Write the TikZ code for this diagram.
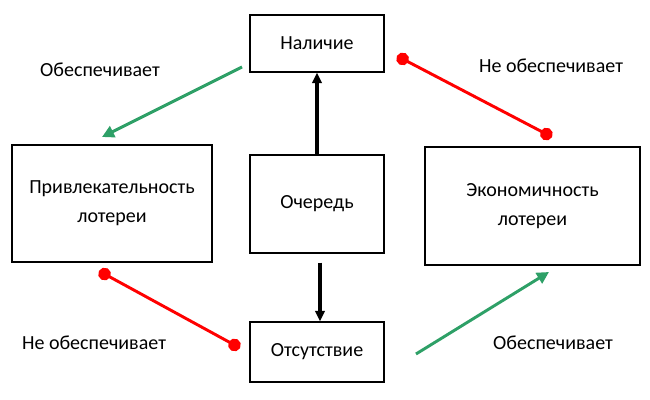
\documentclass[tikz,border=0pt]{standalone}
\usepackage{fontspec}
\setmainfont{Carlito}
\usetikzlibrary{arrows.meta,positioning,calc}
\definecolor{okgreen}{RGB}{46,160,103}
\tikzset{every picture/.style={line width=0.75pt}}

\begin{document}
\begin{tikzpicture}[x=0.75pt,y=-0.75pt,
    box/.style={draw, line width=0.8pt, inner sep=0pt, align=center,
                font=\fontsize{15}{21.5}\selectfont},
    lbl/.style={font=\fontsize{15}{18}\selectfont},
    yes/.style={okgreen, line width=2.2pt, -{Triangle[length=9pt,width=9pt]}},
    no/.style={red, line width=2.2pt, {Circle[length=9.5pt]}-{Circle[length=9.5pt]}},
    flow/.style={black, line width=2.4pt, -{Triangle[length=8pt,width=7pt]}}]
    \useasboundingbox (0,0) rectangle (650,400);

    % блоки
    \node[box, minimum width=134pt*0.75, minimum height=57pt*0.75] (nalichie) at (317,43.5) {Наличие};
    \node[box, minimum width=134pt*0.75, minimum height=98pt*0.75] (ochered) at (317,204) {Очередь};
    \node[box, minimum width=134pt*0.75, minimum height=60pt*0.75] (otsutstvie) at (317,352) {Отсутствие};
    \node[box, minimum width=200pt*0.75, minimum height=117pt*0.75] (privlek) at (112,203.5) {Привлекательность\\лотереи};
    \node[box, minimum width=215pt*0.75, minimum height=118pt*0.75] (ekonom) at (532.5,206) {Экономичность\\лотереи};

    % очередь -> наличие / отсутствие
    \draw[flow] (ochered.north) -- (nalichie.south);
    \coordinate (downstart) at ($(ochered.south)+(3,9)$);
    \draw[flow] (downstart) -- (downstart |- otsutstvie.north);

    % обеспечивает
    \coordinate (g1a) at (242,67);
    \coordinate (g1b) at (102,137);
    \draw[yes] (g1a) -- (g1b);
    \node[lbl] (t1) at (100,70) {Обеспечивает};

    \coordinate (g2a) at (416,354);
    \coordinate (g2b) at (549,272);
    \draw[yes] (g2a) -- (g2b);
    \node[lbl] (t4) at (553,343) {Обеспечивает};

    % не обеспечивает
    \coordinate (r1a) at (397,56);
    \coordinate (r1b) at (552,137);
    \draw[no] (r1a) -- (r1b);
    \node[lbl] (t2) at (551,66) {Не обеспечивает};

    \coordinate (r2a) at (99,271);
    \coordinate (r2b) at (240,348);
    \draw[no] (r2a) -- (r2b);
    \node[lbl] (t3) at (94,343) {Не обеспечивает};
\end{tikzpicture}
\end{document}
